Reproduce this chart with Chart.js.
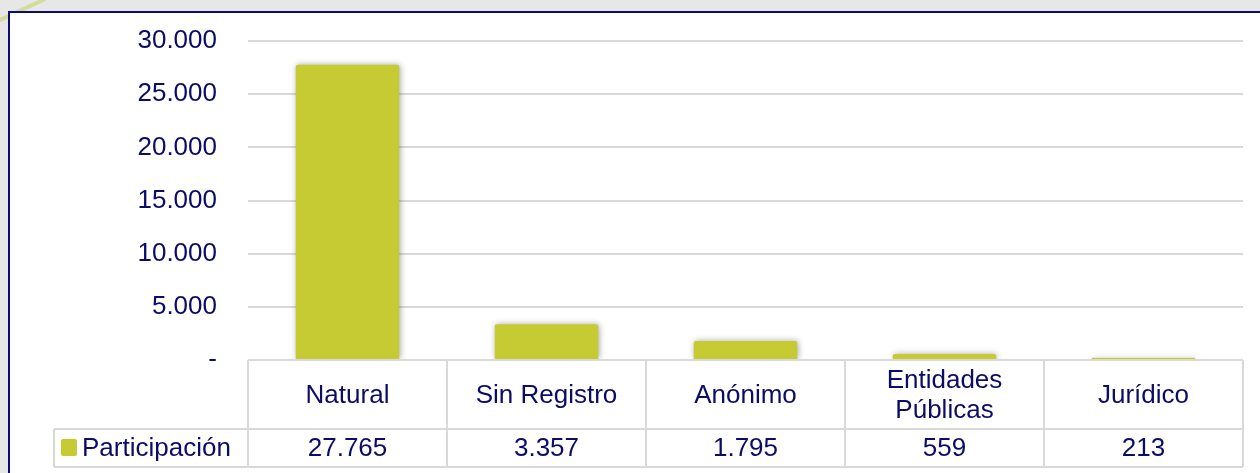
<!DOCTYPE html>
<html>
<head>
<meta charset="utf-8">
<script src="https://cdn.jsdelivr.net/npm/chart.js@4.4.1/dist/chart.umd.min.js"></script>
<style>
  html, body { margin: 0; padding: 0; width: 1260px; height: 473px; overflow: hidden; background: #e7e7e7; }
  #box { position: absolute; left: 8px; top: 11px; width: 1300px; height: 500px; background: #ffffff;
         border-left: 2px solid #0b0b78; border-top: 2px solid #0b0b78; }
  #deco { position: absolute; left: -2px; top: 19px; width: 52px; height: 4px; background: rgba(196,210,80,0.5);
          transform: rotate(-25deg); transform-origin: left center; }
  #c { position: absolute; left: 0; top: 0; }
</style>
</head>
<body>
<div id="deco"></div>
<div id="box"></div>
<canvas id="c" width="1260" height="473"></canvas>
<script>
const categories = ['Natural', 'Sin Registro', 'Anónimo', ['Entidades', 'Públicas'], 'Jurídico'];
const seriesName = 'Participación';
const values = [27765, 3357, 1795, 559, 213];
const yTicks = [0, 5000, 10000, 15000, 20000, 25000, 30000];

const NAVY = '#0b0b68';
const GRID = '#d9d9d9';
const BAR = '#c6cb33';
const FONT = '"Liberation Sans", Arial, sans-serif';

function fmt(v) {
  if (v === 0) return '-';
  return String(v).replace(/\B(?=(\d{3})+(?!\d))/g, '.');
}

const shadowPlugin = {
  id: 'barShadow',
  beforeDatasetDraw(chart) {
    const ctx = chart.ctx;
    ctx.save();
    ctx.shadowColor = 'rgba(0,0,0,0.35)';
    ctx.shadowBlur = 6;
    ctx.shadowOffsetX = 1;
    ctx.shadowOffsetY = 0;
  },
  afterDatasetDraw(chart) { chart.ctx.restore(); }
};

const tablePlugin = {
  id: 'dataTable',
  afterDraw(chart) {
    const ctx = chart.ctx;
    const area = chart.chartArea;
    const xs = chart.scales.x;
    const n = categories.length;
    const colW = (area.right - area.left) / n;
    const top = area.bottom;
    const mid = top + 69;
    const bot = mid + 38;
    const legLeft = 54;
    ctx.save();
    ctx.strokeStyle = GRID;
    ctx.lineWidth = 2;
    ctx.beginPath();
    ctx.moveTo(area.left, top); ctx.lineTo(area.right, top);
    ctx.moveTo(legLeft, mid); ctx.lineTo(area.right, mid);
    ctx.moveTo(legLeft, bot); ctx.lineTo(area.right, bot);
    for (let i = 0; i <= n; i++) {
      const x = area.left + i * colW;
      ctx.moveTo(x, top); ctx.lineTo(x, bot);
    }
    ctx.moveTo(legLeft, mid); ctx.lineTo(legLeft, bot);
    ctx.stroke();

    ctx.fillStyle = NAVY;
    ctx.font = '26px ' + FONT;
    ctx.textAlign = 'center';
    ctx.textBaseline = 'middle';
    categories.forEach((c, i) => {
      const cx = xs.getPixelForValue(i);
      const lines = Array.isArray(c) ? c : [c];
      const lh = 30;
      const cy = (top + mid) / 2 + 1;
      lines.forEach((l, j) => {
        ctx.fillText(l, cx, cy + (j - (lines.length - 1) / 2) * lh);
      });
      ctx.fillText(fmt(values[i]), cx, (mid + bot) / 2 + 1);
    });
    ctx.fillStyle = BAR;
    ctx.beginPath();
    if (ctx.roundRect) ctx.roundRect(61, 439, 16, 17, 2); else ctx.rect(61, 439, 16, 17);
    ctx.fill();
    ctx.fillStyle = NAVY;
    ctx.textAlign = 'left';
    ctx.fillText(seriesName, 82, (mid + bot) / 2 + 1);
    ctx.restore();
  }
};

new Chart(document.getElementById('c'), {
  type: 'bar',
  data: {
    labels: categories,
    datasets: [{
      label: seriesName,
      data: values,
      backgroundColor: BAR,
      borderWidth: 0,
      borderRadius: { topLeft: 2, topRight: 2 },
      borderSkipped: 'bottom',
      barPercentage: 1,
      categoryPercentage: 0.52
    }]
  },
  options: {
    responsive: false,
    animation: false,
    devicePixelRatio: 1,
    layout: { padding: { left: 0, top: 41, right: 17, bottom: 113 } },
    plugins: { legend: { display: false }, tooltip: { enabled: false } },
    scales: {
      x: { display: false },
      y: {
        min: 0, max: 30000,
        afterBuildTicks(scale) { scale.ticks = yTicks.map(v => ({ value: v })); },
        afterFit(scale) { scale.width = 248; scale.paddingTop = 0; scale.paddingBottom = 0; },
        border: { display: false },
        grid: { color: GRID, lineWidth: 2, drawTicks: false },
        ticks: {
          padding: 31,
          color: NAVY,
          font: { size: 26, family: FONT },
          callback: (v) => fmt(v)
        }
      }
    }
  },
  plugins: [shadowPlugin, tablePlugin]
});
</script>
</body>
</html>
